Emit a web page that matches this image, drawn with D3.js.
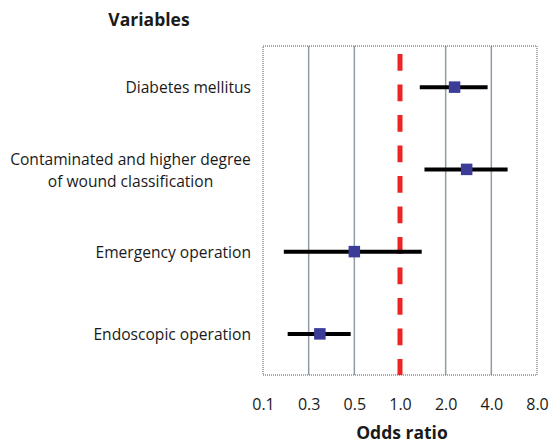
<!DOCTYPE html>
<html>
<head>
<meta charset="utf-8">
<script src="https://cdn.jsdelivr.net/npm/d3@7"></script>
<style>
  body { margin: 0; background: #fff; }
  svg text { font-family: "Open Sans", sans-serif; fill: #1a1a1a; }
</style>
</head>
<body>
<div id="chart"></div>
<script>
// forest plot data
var variables = ["Diabetes mellitus", "Contaminated and higher degree|of wound classification", "Emergency operation", "Endoscopic operation"];
var oddsRatio = [2.29, 2.75, 0.50, 0.34];
var ciLow = [1.35, 1.45, 0.165, 0.181];
var ciHigh = [3.78, 5.12, 1.39, 0.48];
var tickVals = [0.1, 0.3, 0.5, 1.0, 2.0, 4.0, 8.0];

var W = 549, H = 443;
var plotL = 263, plotR = 537, plotT = 46, plotB = 375;

var svg = d3.select("#chart").append("svg")
    .attr("width", W)
    .attr("height", H);

// ticks are evenly spaced, so log scale piecewise over tick values
var x = d3.scaleLog()
    .domain(tickVals)
    .range(tickVals.map(function (d, i) { return plotL + i * (plotR - plotL) / (tickVals.length - 1); }));

var y = d3.scaleBand()
    .domain(variables)
    .range([plotT, plotB]);

function cy(d) { return y(d) + y.bandwidth() / 2; }

// grid lines
svg.selectAll("line.grid")
    .data(tickVals.slice(1, -1).filter(function (d) { return d != 1; }))
    .enter().append("line")
    .attr("class", "grid")
    .attr("x1", function (d) { return x(d); })
    .attr("x2", function (d) { return x(d); })
    .attr("y1", plotT)
    .attr("y2", plotB)
    .attr("stroke", "#8e9ca6")
    .attr("stroke-width", 1.5);

// frame
svg.append("rect")
    .attr("x", plotL)
    .attr("y", plotT)
    .attr("width", plotR - plotL)
    .attr("height", plotB - plotT)
    .attr("fill", "none")
    .attr("stroke", "#555")
    .attr("stroke-width", 1)
    .attr("stroke-dasharray", "1,1");

// reference line at OR = 1
svg.append("line")
    .attr("x1", x(1))
    .attr("x2", x(1))
    .attr("y1", 54)
    .attr("y2", plotB)
    .attr("stroke", "#ee2424")
    .attr("stroke-width", 5)
    .attr("stroke-dasharray", "16.7,13.8");

// confidence intervals
var rows = variables.map(function (v, i) {
    return { name: v, or: oddsRatio[i], lo: ciLow[i], hi: ciHigh[i] };
});

svg.selectAll("line.ci")
    .data(rows)
    .enter().append("line")
    .attr("class", "ci")
    .attr("x1", function (d) { return x(d.lo); })
    .attr("x2", function (d) { return x(d.hi); })
    .attr("y1", function (d) { return cy(d.name); })
    .attr("y2", function (d) { return cy(d.name); })
    .attr("stroke", "#000")
    .attr("stroke-width", 4);

var ms = 11.5;
svg.selectAll("rect.pt")
    .data(rows)
    .enter().append("rect")
    .attr("class", "pt")
    .attr("x", function (d) { return x(d.or) - ms / 2; })
    .attr("y", function (d) { return cy(d.name) - ms / 2; })
    .attr("width", ms)
    .attr("height", ms)
    .attr("fill", "#3b3b98");

// category labels
var lab = svg.selectAll("text.cat")
    .data(variables)
    .enter().append("text")
    .attr("class", "cat")
    .attr("font-size", 15.6)
    .attr("y", function (d) { return cy(d); });

lab.each(function (d) {
    var parts = d.split("|");
    var t = d3.select(this);
    parts.forEach(function (p, i) {
        t.append("tspan")
            .attr("x", parts.length > 1 ? 130.5 : 251)
            .attr("dy", i == 0 ? (parts.length > 1 ? "-0.25em" : "0.38em") : "1.41em")
            .attr("text-anchor", parts.length > 1 ? "middle" : "end")
            .text(p);
    });
});

// x axis labels
var axis = d3.axisBottom(x)
    .tickValues(tickVals)
    .tickFormat(d3.format(".1f"))
    .tickSize(0)
    .tickPadding(0);

var ax = svg.append("g")
    .attr("transform", "translate(0," + 410 + ")")
    .call(axis);
ax.select(".domain").remove();
ax.selectAll("text")
    .attr("dy", 0)
    .attr("font-size", 16)
    .attr("font-family", "'Open Sans', sans-serif")
    .attr("fill", "#1a1a1a");

svg.append("text")
    .attr("x", 149)
    .attr("y", 26)
    .attr("text-anchor", "middle")
    .attr("font-size", 17.5)
    .attr("font-weight", "bold")
    .text("Variables");

svg.append("text")
    .attr("x", 402)
    .attr("y", 439)
    .attr("text-anchor", "middle")
    .attr("font-size", 17.5)
    .attr("font-weight", "bold")
    .text("Odds ratio");
</script>
</body>
</html>
